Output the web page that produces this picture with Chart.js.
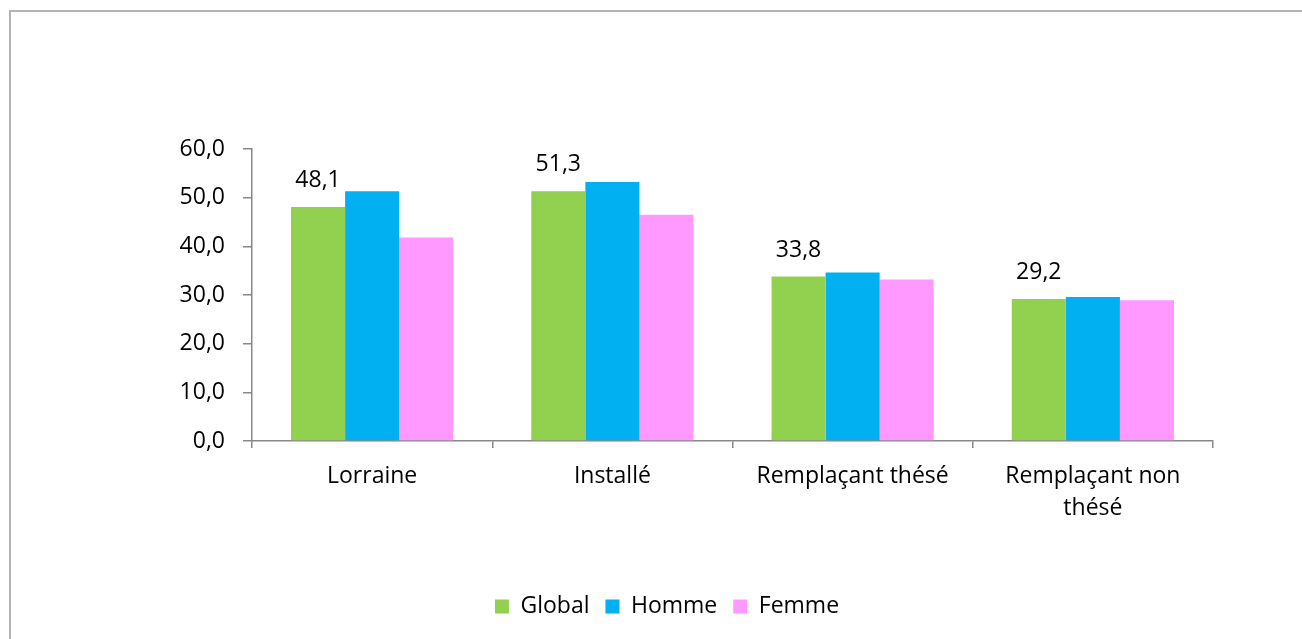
<!DOCTYPE html>
<html>
<head>
<meta charset="utf-8">
<script src="https://cdn.jsdelivr.net/npm/chart.js@4/dist/chart.umd.min.js"></script>
<style>
  body { margin: 0; background: #fff; }
  #frame { position: absolute; left: 9px; top: 10px; width: 1300px; height: 640px;
    border-top: 2px solid #b3b3b3; border-left: 2px solid #b3b3b3; }
  #wrap { position: absolute; left: 0; top: 0; width: 1302px; height: 639px; }
</style>
</head>
<body>
<div id="frame"></div>
<div id="wrap"><canvas id="myChart"></canvas></div>
<script>
'use strict';
// categories
let categories = ['Lorraine', 'Installé', 'Remplaçant thésé', ['Remplaçant non', 'thésé']];
// series values (%)
let globalValues = [48.1, 51.3, 33.8, 29.2];
let hommeValues = [51.3, 53.2, 34.6, 29.6];
let femmeValues = [41.8, 46.5, 33.2, 28.9];
let yTicks = [0, 10, 20, 30, 40, 50, 60];

const fontName = '"Open Sans", sans-serif';
const fontSize = 23;

function frNumber(v) {
  return v.toFixed(1).replace('.', ',');
}

// write Global values above its bars
const globalLabels = {
  id: 'globalLabels',
  afterDatasetsDraw(chart) {
    let ctx = chart.ctx;
    let meta = chart.getDatasetMeta(0);
    ctx.save();
    ctx.font = fontSize + 'px ' + fontName;
    ctx.fillStyle = '#000';
    ctx.textAlign = 'center';
    ctx.textBaseline = 'alphabetic';
    meta.data.forEach((bar, i) => {
      ctx.fillText(frNumber(globalValues[i]), bar.x, bar.y - 20);
    });
    ctx.restore();
  }
};

let ctx = document.getElementById('myChart').getContext('2d');
let myChart = new Chart(ctx, {
  type: 'bar',
  data: {
    labels: categories,
    datasets: [{
      label: 'Global',
      data: globalValues,
      backgroundColor: '#92D050'
    }, {
      label: 'Homme',
      data: hommeValues,
      backgroundColor: '#00B0F0'
    }, {
      label: 'Femme',
      data: femmeValues,
      backgroundColor: '#FF99FF'
    }]
  },
  plugins: [globalLabels],
  options: {
    responsive: true,
    maintainAspectRatio: false,
    animation: false,
    datasets: {
      bar: { categoryPercentage: 0.675, barPercentage: 1.0 }
    },
    layout: { padding: { left: 32, right: 0, top: 149, bottom: 11 } },
    plugins: {
      tooltip: { enabled: false },
      legend: {
        position: 'bottom',
        labels: {
          boxWidth: 14,
          boxHeight: 14,
          padding: 16,
          color: '#000',
          font: { family: fontName, size: fontSize }
        }
      }
    },
    scales: {
      x: {
        grid: { display: true, offset: true, drawOnChartArea: false, tickLength: 7, color: '#888', lineWidth: 1.5 },
        border: { color: '#888', width: 1.5 },
        ticks: { color: '#000', padding: 13, maxRotation: 0, font: { family: fontName, size: fontSize, lineHeight: 1.38 } },
        afterFit(scale) { scale.height = 138; }
      },
      y: {
        min: 0,
        max: 60,
        afterBuildTicks(scale) { scale.ticks = yTicks.map(v => ({ value: v })); },
        grid: { drawOnChartArea: false, tickLength: 9, color: '#888', lineWidth: 1.5 },
        border: { color: '#888', width: 1.5 },
        ticks: {
          color: '#000', padding: 18,
          font: { family: fontName, size: fontSize },
          callback: v => frNumber(v)
        },
        afterFit(scale) { scale.width = 220; }
      },
      // empty space on the right of the plot
      yRight: {
        position: 'right',
        min: 0,
        max: 60,
        grid: { display: false },
        border: { display: false },
        ticks: { display: false },
        afterFit(scale) { scale.width = 89; }
      }
    }
  }
});
</script>
</body>
</html>
